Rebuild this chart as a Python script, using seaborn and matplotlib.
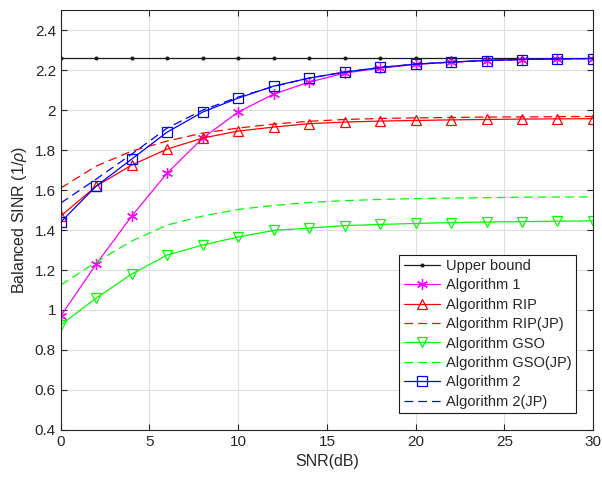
import numpy as np
import pandas as pd
import matplotlib
matplotlib.use('Agg')
import matplotlib.pyplot as plt
import seaborn as sns

# SNR points (dB)
snr = [0, 2, 4, 6, 8, 10, 12, 14, 16, 18, 20, 22, 24, 26, 28, 30]

# Balanced SINR values
upper_bound = [2.26] * 16
alg1 = [0.97, 1.23, 1.47, 1.685, 1.86, 1.99, 2.08, 2.14, 2.185, 2.21,
        2.228, 2.24, 2.248, 2.253, 2.256, 2.258]
alg_rip = [1.47, 1.62, 1.725, 1.805, 1.86, 1.895, 1.915, 1.932, 1.94, 1.945,
           1.948, 1.951, 1.953, 1.955, 1.956, 1.957]
alg_rip_jp = [1.61, 1.72, 1.795, 1.845, 1.885, 1.91, 1.93, 1.944, 1.953, 1.958,
              1.961, 1.963, 1.965, 1.966, 1.967, 1.968]
alg_gso = [0.925, 1.06, 1.18, 1.275, 1.325, 1.365, 1.398, 1.41, 1.422, 1.428,
           1.433, 1.437, 1.44, 1.442, 1.444, 1.446]
alg_gso_jp = [1.125, 1.24, 1.345, 1.425, 1.47, 1.503, 1.523, 1.538, 1.547, 1.553,
              1.557, 1.56, 1.562, 1.564, 1.565, 1.566]
alg2 = [1.44, 1.62, 1.755, 1.89, 1.99, 2.06, 2.12, 2.16, 2.19, 2.213,
        2.23, 2.24, 2.248, 2.253, 2.256, 2.258]
alg2_jp = [1.535, 1.655, 1.78, 1.91, 2.0, 2.065, 2.118, 2.16, 2.19, 2.213,
           2.23, 2.24, 2.248, 2.253, 2.256, 2.258]

sns.set_theme(style='ticks')
plt.rcParams['font.family'] = ['Liberation Sans', 'DejaVu Sans']
plt.rcParams['mathtext.fontset'] = 'custom'
plt.rcParams['mathtext.it'] = 'Liberation Sans:italic'

fig = plt.figure(figsize=(6.02, 4.82), dpi=100)
ax = fig.add_axes([0.101, 0.108, 0.884, 0.871])

asterisk = (6, 2, 0)
series = [
    ('Upper bound', upper_bound, 'k', '-', '.', 4),
    ('Algorithm 1', alg1, (1, 0, 1), '-', asterisk, 8),
    ('Algorithm RIP', alg_rip, (1, 0, 0), '-', '^', 7.5),
    ('Algorithm RIP(JP)', alg_rip_jp, (1, 0, 0), '--', None, 0),
    ('Algorithm GSO', alg_gso, (0, 1, 0), '-', 'v', 7.5),
    ('Algorithm GSO(JP)', alg_gso_jp, (0, 1, 0), '--', None, 0),
    ('Algorithm 2', alg2, (0, 0, 1), '-', 's', 6.5),
    ('Algorithm 2(JP)', alg2_jp, (0, 0, 1), '--', None, 0),
]

for name, vals, col, ls, mk, ms in series:
    df = pd.DataFrame({'SNR': snr, 'SINR': vals})
    kw = {}
    if mk is not None:
        kw = dict(marker=mk, markersize=ms,
                  markerfacecolor=col if mk == '.' else 'none',
                  markeredgecolor=col, markeredgewidth=0.9)
    if ls == '--':
        kw['dashes'] = (7, 4)
    sns.lineplot(data=df, x='SNR', y='SINR', color=col,
                 linewidth=0.9, label=name, ax=ax, **kw)

ax.set_xlim(0, 30)
ax.set_ylim(0.4, 2.5)
ax.set_xticks(np.arange(0, 31, 5))
ax.set_yticks(np.arange(0.4, 2.41, 0.2))
ax.set_yticklabels(['0.4', '0.6', '0.8', '1', '1.2', '1.4', '1.6', '1.8', '2', '2.2', '2.4'])
ax.grid(True, color=(0.87, 0.87, 0.87), linewidth=0.8)
ax.set_axisbelow(True)
for s in ax.spines.values():
    s.set_color((0.15, 0.15, 0.15))
    s.set_linewidth(0.8)
ax.tick_params(direction='in', top=True, right=True, length=4, width=0.8,
               colors=(0.15, 0.15, 0.15), labelsize=11)
ax.set_xlabel('SNR(dB)', fontsize=11.5, color=(0.15, 0.15, 0.15))
ax.set_ylabel('Balanced SINR (1/$\\it{\\rho}$)', fontsize=11.5, color=(0.15, 0.15, 0.15))

leg = ax.legend(loc='lower right', bbox_to_anchor=(0.968, 0.04), borderaxespad=0,
                fontsize=10.5, frameon=True, fancybox=False, edgecolor='k', framealpha=1,
                handlelength=2.5, borderpad=0.3, labelspacing=0.37, handletextpad=0.4)
leg.get_frame().set_linewidth(0.8)

fig.savefig('out.png', dpi=100)
